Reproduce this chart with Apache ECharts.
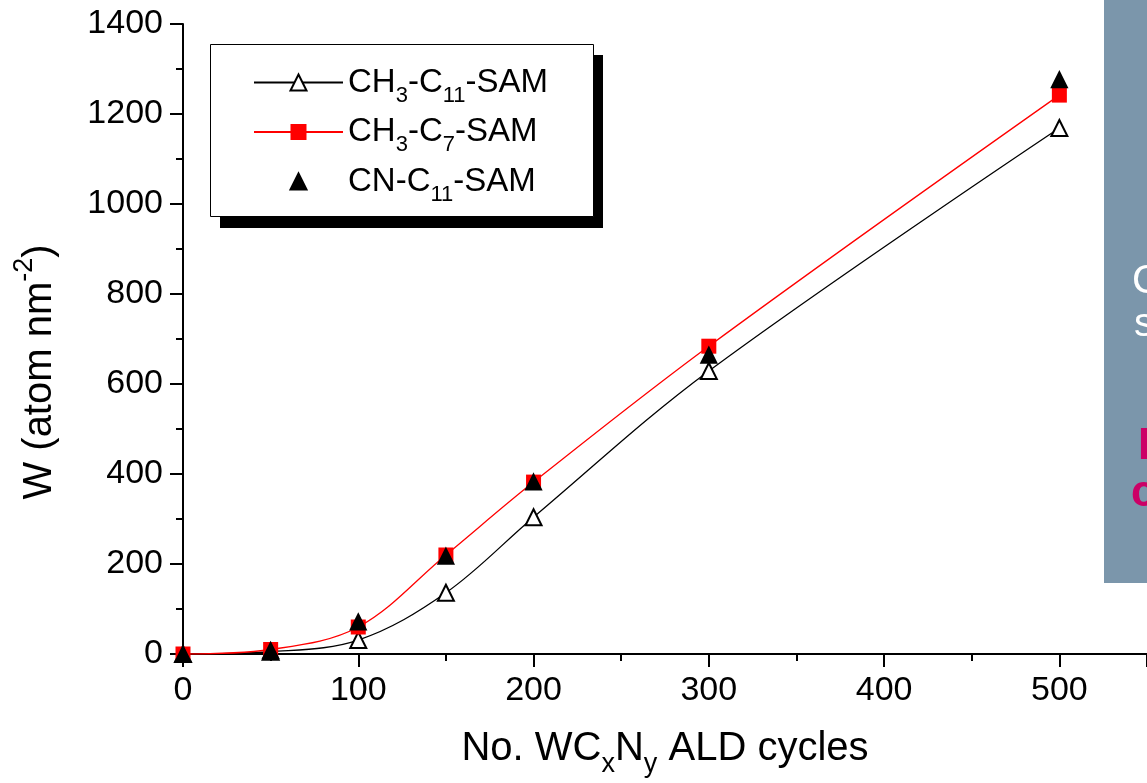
<!DOCTYPE html>
<html>
<head>
<meta charset="utf-8">
<script src="https://cdn.jsdelivr.net/npm/echarts@6/dist/echarts.min.js"></script>
<style>
html,body{margin:0;padding:0;background:#fff;}
#chart{width:1147px;height:783px;}
</style>
</head>
<body>
<div id="chart"></div>
<script>
// Data
var cycles = [0, 50, 100, 150, 200, 300, 500];
var ch3C11 = [0, 5, 31, 136, 304, 629, 1169];
var ch3C7 = [0, 10, 60, 220, 382, 684, 1242];
var cnC11 = [0, 8, 71, 217, 382, 664, 1276];
var seriesNames = ['CH3-C11-SAM', 'CH3-C7-SAM', 'CN-C11-SAM'];
var xTicks = [0, 100, 200, 300, 400, 500];
var yTicks = [0, 200, 400, 600, 800, 1000, 1200, 1400];

function pairs(xs, ys) { return xs.map(function (x, i) { return [x, ys[i]]; }); }

var legendLabels = {
  'CH3-C11-SAM': '{a|CH}{s|3}{a|-C}{s|11}{a|-SAM}',
  'CH3-C7-SAM': '{a|CH}{s|3}{a|-C}{s|7}{a|-SAM}',
  'CN-C11-SAM': '{a|CN-C}{s|11}{a|-SAM}'
};

var chart = echarts.init(document.getElementById('chart'), null, {renderer: 'canvas'});
var font = 'Liberation Sans, Arial, sans-serif';
var subStyle = function (size, align) {
  return {fontSize: size, fontFamily: font, color: '#000', lineHeight: size, verticalAlign: align};
};
var option = {
  animation: false,
  backgroundColor: '#fff',
  textStyle: {fontFamily: font},
  grid: {left: 183, top: 24, width: 976, height: 630, containLabel: false},
  graphic: [
    {type: 'rect', shape: {x: 1104, y: 0, width: 60, height: 583}, style: {fill: '#7b96ab'}, z: 0},
    {type: 'text', left: 1132, top: 262, style: {text: 'C', fill: '#fff', font: '40px ' + font}, z: 1},
    {type: 'text', left: 1134, top: 305, style: {text: 's', fill: '#fff', font: '40px ' + font}, z: 1},
    {type: 'text', left: 1138, top: 425, style: {text: 'I', fill: '#cc0066', font: 'bold 44px ' + font}, z: 1},
    {type: 'text', left: 1131, top: 472, style: {text: 'c', fill: '#cc0066', font: 'bold 44px ' + font}, z: 1},
    {type: 'rect', shape: {x: 220, y: 55, width: 383, height: 173}, style: {fill: '#000'}, z: 2},
    {type: 'rect', shape: {x: 210.5, y: 44.5, width: 383, height: 172}, style: {fill: '#fff', stroke: '#000', lineWidth: 1}, z: 3}
  ],
  legend: {
    show: true,
    orient: 'vertical',
    left: 248,
    top: 61,
    itemWidth: 89,
    itemHeight: 20,
    itemGap: 9,
    z: 10,
    selectedMode: false,
    data: seriesNames,
    formatter: function (name) { return legendLabels[name]; },
    textStyle: {
      color: '#000',
      rich: {
        a: {fontSize: 33, fontFamily: font, color: '#000', lineHeight: 48, verticalAlign: 'middle'},
        s: subStyle(22, 'bottom')
      },
      padding: [0, 0, 0, 0]
    }
  },
  xAxis: {
    type: 'value',
    min: 0,
    max: 550,
    interval: 100,
    name: '{a|No. WC}{s|x}{a|N}{s|y}{a| ALD cycles}',
    nameLocation: 'middle',
    nameGap: 66,
    nameTextStyle: {
      rich: {
        a: {fontSize: 40, fontFamily: font, color: '#000', lineHeight: 58, verticalAlign: 'middle'},
        s: subStyle(27, 'bottom')
      }
    },
    axisLine: {show: true, onZero: false, lineStyle: {color: '#000', width: 2}},
    axisTick: {show: true, inside: false, length: 13, lineStyle: {color: '#000', width: 2}},
    minorTick: {show: true, splitNumber: 2, length: 7, lineStyle: {color: '#000', width: 2}},
    splitLine: {show: false},
    axisLabel: {
      show: true, fontSize: 34, color: '#000', fontFamily: font, margin: 20,
      showMaxLabel: false,
      formatter: function (v) { return xTicks.indexOf(v) >= 0 ? String(v) : ''; }
    }
  },
  yAxis: {
    type: 'value',
    min: 0,
    max: 1400,
    interval: 200,
    name: '{a|W (atom nm}{p|-2}{a|)}',
    nameLocation: 'middle',
    nameRotate: 90,
    nameGap: 114,
    nameTextStyle: {
      padding: [0, 66, 0, 0],
      rich: {
        a: {fontSize: 40, fontFamily: font, color: '#000', lineHeight: 58, verticalAlign: 'middle'},
        p: subStyle(27, 'top')
      }
    },
    axisLine: {show: true, onZero: false, lineStyle: {color: '#000', width: 2}},
    axisTick: {show: true, inside: false, length: 13, lineStyle: {color: '#000', width: 2}},
    minorTick: {show: true, splitNumber: 2, length: 7, lineStyle: {color: '#000', width: 2}},
    splitLine: {show: false},
    axisLabel: {
      show: true, fontSize: 34, color: '#000', fontFamily: font, margin: 20,
      formatter: function (v) { return yTicks.indexOf(v) >= 0 ? String(v) : ''; }
    }
  },
  series: [
    {
      name: seriesNames[0],
      type: 'line',
      data: pairs(cycles, ch3C11),
      smooth: 0.35,
      symbol: 'triangle',
      symbolSize: 16,
      showAllSymbol: true,
      lineStyle: {color: '#000', width: 1.3},
      itemStyle: {color: '#fff', borderColor: '#000', borderWidth: 2},
      z: 3
    },
    {
      name: seriesNames[1],
      type: 'line',
      data: pairs(cycles, ch3C7),
      smooth: 0.35,
      symbol: 'rect',
      symbolSize: 15,
      showAllSymbol: true,
      lineStyle: {color: '#ff0000', width: 1.3},
      itemStyle: {color: '#ff0000', borderWidth: 0},
      z: 4
    },
    {
      name: seriesNames[2],
      type: 'line',
      data: pairs(cycles, cnC11),
      symbol: 'triangle',
      symbolSize: 15,
      showAllSymbol: true,
      lineStyle: {width: 0, opacity: 0},
      itemStyle: {color: '#000', borderColor: '#000', borderWidth: 2, opacity: 1},
      z: 5
    }
  ]
};
chart.setOption(option);
</script>
</body>
</html>
